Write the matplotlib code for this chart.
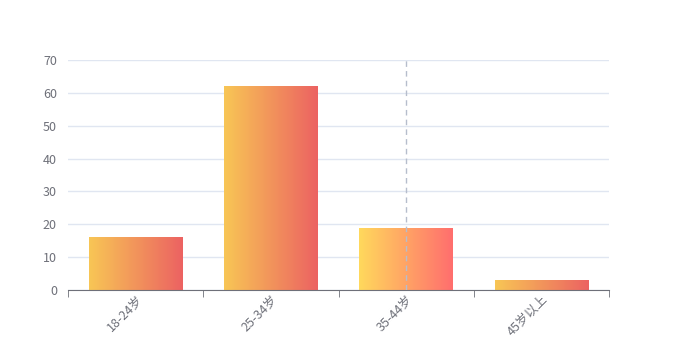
import numpy as np
import matplotlib
matplotlib.use('Agg')
import matplotlib.pyplot as plt
from matplotlib.colors import LinearSegmentedColormap

plt.rcParams['font.family'] = ['Noto Sans CJK SC', 'DejaVu Sans']

categories = ['18-24岁', '25-34岁', '35-44岁', '45岁以上']
values = [16, 62, 19, 3]
highlight = 2  # the hovered bar

normal_cmap = LinearSegmentedColormap.from_list('normal', ['#f8c655', '#ec6262'])
hover_cmap = LinearSegmentedColormap.from_list('hover', ['#ffd95c', '#ff6e6e'])

fig = plt.figure(figsize=(6.77, 3.6), dpi=100)
ax = fig.add_axes([68/677, 1 - 290/360, 541/677, 230/360])

x = np.arange(len(categories))
bars = ax.bar(x, values, width=0.69, color='none', zorder=2)

grad = np.linspace(0, 1, 256).reshape(1, -1)
for i, b in enumerate(bars):
    cmap = hover_cmap if i == highlight else normal_cmap
    im = ax.imshow(grad, cmap=cmap, aspect='auto', zorder=2,
                   extent=[b.get_x(), b.get_x() + b.get_width(), 0, b.get_height()])
    im.set_clip_path(b)

ax.set_xlim(-0.5, len(categories) - 0.5)
ax.set_ylim(0, 70)
ax.set_yticks(range(0, 71, 10))

ax.axvline(x[highlight], color='#b6bdcc', lw=1, ls=(0, (4, 3)), zorder=3)

ax.grid(axis='y', color='#e0e6f1', lw=1, zorder=0)
ax.set_axisbelow(True)
for s in ['top', 'right', 'left']:
    ax.spines[s].set_visible(False)
ax.spines['bottom'].set_color('#6e7079')

# category labels in the middle, ticks on the boundaries
ax.set_xticks(x)
ax.set_xticklabels(categories, rotation=45, ha='right', rotation_mode='anchor',
                   color='#6e7079', fontsize=9)
ax.tick_params(axis='x', which='major', length=0, pad=2)
ax.set_xticks(np.arange(-0.5, len(categories), 1), minor=True)
ax.tick_params(axis='x', which='minor', length=5, color='#6e7079')
ax.tick_params(axis='y', length=0, labelcolor='#6e7079', labelsize=9, pad=8)

fig.savefig('out.png', dpi=100)
